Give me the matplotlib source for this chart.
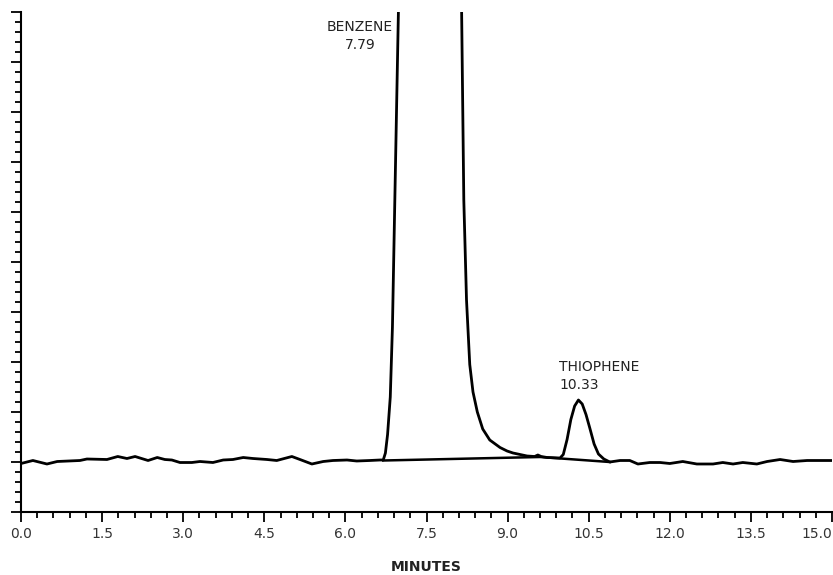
import matplotlib
matplotlib.use("Agg")
import matplotlib.pyplot as plt
from matplotlib.ticker import MultipleLocator
import numpy as np

# chromatogram trace (minutes, detector response)
minutes = [0.00, 0.22, 0.48, 0.67, 1.09, 1.22, 1.59, 1.79, 1.96, 2.11, 2.35, 2.52, 2.66, 2.79,
           2.94, 3.16, 3.31, 3.55, 3.74, 3.92, 4.11, 4.29, 4.55, 4.73, 5.01, 5.16, 5.38, 5.59,
           5.77, 6.03, 6.21, 6.45, 6.64,
           # benzene
           6.70, 6.74, 6.78, 6.83, 6.87, 6.91, 6.98, 7.05, 7.30, 7.79, 8.00, 8.10, 8.15, 8.19,
           8.24, 8.30, 8.36, 8.44, 8.54, 8.67, 8.86, 8.99, 9.10, 9.36, 9.50, 9.56, 9.62, 9.73,
           9.97,
           # thiophene
           10.03, 10.10, 10.17, 10.24, 10.31, 10.38, 10.45, 10.52, 10.60, 10.68, 10.78, 10.89,
           11.08, 11.26, 11.41, 11.63, 11.82, 12.00, 12.24, 12.50, 12.80, 12.98, 13.17, 13.35,
           13.61, 13.80, 14.04, 14.28, 14.54, 14.78, 15.00]
signal = [-0.03, 0.03, -0.04, 0.01, 0.03, 0.06, 0.05, 0.11, 0.07, 0.11, 0.03, 0.09, 0.05, 0.04,
          -0.01, -0.01, 0.01, -0.01, 0.04, 0.05, 0.09, 0.07, 0.05, 0.03, 0.11, 0.05, -0.04, 0.01,
          0.03, 0.04, 0.02, 0.03, 0.04,
          0.04, 0.18, 0.55, 1.30, 2.70, 5.00, 8.98, 12.0, 18.0, 22.0, 18.0, 12.0, 8.98, 5.24,
          3.24, 1.95, 1.40, 1.00, 0.66, 0.44, 0.29, 0.22, 0.18, 0.12, 0.11, 0.14, 0.11, 0.09,
          0.08,
          0.15, 0.45, 0.85, 1.12, 1.24, 1.16, 0.95, 0.68, 0.36, 0.16, 0.06, 0.00,
          0.03, 0.03, -0.04, -0.01, -0.01, -0.03, 0.01, -0.04, -0.04, -0.01, -0.04, -0.01,
          -0.04, 0.01, 0.05, 0.01, 0.03, 0.03, 0.03]

# integration baseline drawn under the peaks
base_min = [6.70, 9.60, 10.89]
base_sig = [0.03, 0.10, 0.00]

peak_names = ["BENZENE\n7.79", "THIOPHENE\n10.33"]
peak_label_x = [6.27, 9.95]
peak_label_y = [8.52, 1.72]
peak_ha = ["center", "left"]

fig = plt.figure(figsize=(8.33, 5.75), dpi=100)
ax = fig.add_axes([21 / 833, 1 - 512 / 575, 811 / 833, 500 / 575])

ax.plot(minutes, signal, color="black", lw=2.0, solid_joinstyle="round")
ax.plot(base_min, base_sig, color="black", lw=1.8)

for name, tx, ty, ha in zip(peak_names, peak_label_x, peak_label_y, peak_ha):
    ax.text(tx, ty, name, ha=ha, va="center", multialignment=ha, fontsize=10,
            color="#222222", linespacing=1.3)

ax.set_xlim(0, 15)
ax.set_ylim(-1, 9)
ax.xaxis.set_major_locator(MultipleLocator(1.5))
ax.xaxis.set_minor_locator(MultipleLocator(0.3))
ax.yaxis.set_major_locator(MultipleLocator(1))
ax.yaxis.set_minor_locator(MultipleLocator(0.2))
ax.set_xticks(np.arange(0, 15.01, 1.5))
ax.set_xticklabels([f"{v:.1f}" for v in np.arange(0, 15.01, 1.5)])
ax.get_xticklabels()[-1].set_ha("right")
ax.set_yticklabels([])

ax.spines["top"].set_visible(False)
ax.spines["right"].set_visible(False)
ax.spines["left"].set_linewidth(1.5)
ax.spines["bottom"].set_linewidth(1.5)
ax.tick_params(axis="both", which="major", length=7.5, width=1.3, labelsize=10,
               labelcolor="#333333")
ax.tick_params(axis="both", which="minor", length=4, width=1.3)
ax.tick_params(axis="x", which="major", pad=3)

fig.text(0.5 + 10 / 833, 1 - 567 / 575, "MINUTES", ha="center", va="center",
         fontsize=10, fontweight="bold", color="#222222")

fig.savefig("out.png", dpi=100)
